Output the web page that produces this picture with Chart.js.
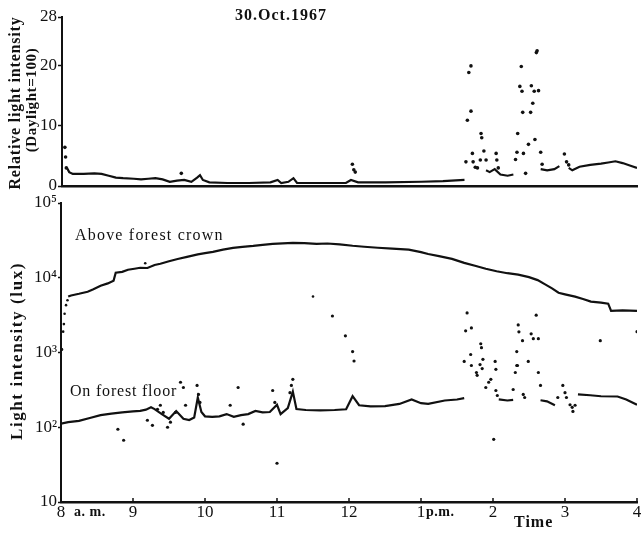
<!DOCTYPE html>
<html>
<head>
<meta charset="utf-8">
<title>Light intensity in the forest, 30 Oct 1967</title>
<script src="https://cdn.jsdelivr.net/npm/chart.js@4/dist/chart.umd.min.js"></script>
<style>
  body { margin: 0; background: #fff; }
  #wrap { position: relative; width: 641px; height: 533px; overflow: hidden; }
  .panel { position: absolute; left: 0; width: 641px; }
  #top { top: 0; height: 195px; }
  #bottom { top: 195px; height: 338px; }
</style>
</head>
<body>
<div id="wrap">
  <div class="panel" id="top"><canvas id="relChart"></canvas></div>
  <div class="panel" id="bottom"><canvas id="luxChart"></canvas></div>
</div>
<script>
// Time axis, decimal hours (8 a.m. to 4 p.m.)
const hourTicks = [8, 9, 10, 11, 12, 13, 14, 15, 16];
const hourLabels = ['8', '9', '10', '11', '12', '1', '2', '3', '4'];

// Relative light intensity axis (daylight = 100)
const relTicks = [0, 10, 20, 28];

// Lux axis, one tick per decade
const luxTicks = [10, 100, 1000, 10000, 100000];
const luxLabels = ['10', '10²', '10³', '10⁴', '10⁵'];

// Above forest crown, continuous record (lux)
const crownTimes = [8.10, 8.14, 8.25, 8.37, 8.45, 8.55, 8.65, 8.73, 8.76, 8.85, 8.93, 9.02, 9.10, 9.20, 9.30,
  9.38, 9.50, 9.62, 9.75, 9.90, 10.00, 10.11, 10.25, 10.39, 10.52, 10.67, 10.80, 10.94, 11.08, 11.22,
  11.38, 11.55, 11.70, 11.87, 12.05, 12.21, 12.40, 12.60, 12.83, 13.00, 13.10, 13.25, 13.43, 13.60,
  13.75, 13.90, 14.05, 14.20, 14.35, 14.50, 14.62, 14.73, 14.82, 14.91, 15.00, 15.14, 15.25, 15.36,
  15.50, 15.60, 15.64, 15.80, 16.00];
const crownLux = [5600, 5800, 6100, 6500, 7000, 7800, 8400, 9100, 11700, 12000, 12800, 13200, 13600, 13500, 14800,
  15400, 16600, 17800, 19000, 20500, 21300, 22200, 23800, 25100, 25900, 26700, 27600, 28400, 28900, 29300,
  29000, 28400, 28700, 28000, 26800, 26000, 25200, 24600, 23800, 22000, 20800, 19500, 17900, 15800,
  14500, 13200, 12200, 11500, 11000, 10200, 9300, 8100, 7200, 6300, 6000, 5600, 5200, 4800,
  4650, 4500, 3600, 3650, 3600];
const crownDotTimes = [8.03, 8.04, 8.05, 8.07, 8.09, 9.17, 11.50];
const crownDotLux = [1900, 2400, 3300, 4300, 5000, 15600, 5600];

// On forest floor, continuous record (lux); null where only scattered readings exist
const floorTimes = [8.00, 8.10, 8.25, 8.40, 8.55, 8.70, 8.85, 9.00, 9.10, 9.18, 9.25, 9.30, 9.40, 9.50, 9.60,
  9.70, 9.78, 9.85, 9.90, 9.95, 10.00, 10.10, 10.20, 10.30, 10.40, 10.50, 10.60, 10.70, 10.80, 10.90,
  11.00, 11.05, 11.15, 11.22, 11.27, 11.40, 11.60, 11.80, 11.96, 12.05, 12.14, 12.30, 12.50, 12.70,
  12.87, 13.00, 13.10, 13.33, 13.50, 13.60, 13.62, 14.08, 14.20, 14.28, 14.30, 14.66, 14.75, 14.86,
  14.92, 15.00, 15.18, 15.35, 15.50, 15.73, 15.85, 16.00];
const floorLux = [112, 117, 122, 133, 145, 152, 158, 163, 166, 172, 185, 175, 150, 130, 165,
  130, 125, 135, 250, 160, 140, 138, 140, 150, 138, 145, 150, 165, 158, 160,
  200, 150, 180, 300, 175, 170, 168, 170, 174, 260, 197, 190, 192, 205,
  235, 210, 205, 228, 235, 245, null, 236, 228, 232, null, 230, 222, 197,
  null, null, 275, 268, 260, 258, 235, 200];
const floorDotTimes = [8.01, 8.79, 8.87, 9.20, 9.27, 9.34, 9.38, 9.42, 9.48, 9.52, 9.59, 9.66, 9.70, 9.73,
  9.89, 9.91, 9.93, 10.35, 10.46, 10.53, 10.94, 10.97, 11.00, 11.18, 11.20, 11.22,
  11.77, 11.95, 12.05, 12.07, 13.60, 13.62, 13.64, 13.69, 13.70, 13.70, 13.77, 13.78, 13.82, 13.83,
  13.84, 13.85, 13.86, 13.90, 13.94, 13.97, 14.01, 14.03, 14.04, 14.04, 14.06, 14.28, 14.31, 14.33,
  14.33, 14.34, 14.35, 14.36, 14.41, 14.42, 14.44, 14.49, 14.53, 14.56, 14.60, 14.63, 14.63, 14.66,
  14.90, 14.97, 15.00, 15.02, 15.07, 15.10, 15.11, 15.14, 15.49, 16.00];
const floorDotLux = [1100, 94, 67, 124, 106, 174, 197, 158, 100, 117, 158, 400, 340, 197,
  363, 275, 215, 197, 340, 110, 310, 215, 33, 290, 363, 437,
  3080, 1670, 1030, 770, 760, 1950, 3380, 940, 2130, 670, 540, 495, 690, 1310,
  1160, 610, 810, 340, 400, 437, 69, 760, 595, 310, 266, 320, 540, 670,
  1030, 670, 2340, 1890, 1440, 275, 250, 760, 1780, 1530, 3160, 1530, 540, 363,
  250, 363, 290, 250, 200, 185, 163, 197, 1440, 1900];

// Relative light intensity (floor / crown x 100), continuous record
const relTimes = [8.07, 8.10, 8.15, 8.30, 8.45, 8.55, 8.65, 8.75, 8.85, 9.00, 9.10, 9.20, 9.30, 9.40, 9.50,
  9.60, 9.70, 9.80, 9.88, 9.92, 9.96, 10.05, 10.30, 10.60, 10.90, 11.00, 11.05, 11.15, 11.22, 11.27,
  11.60, 11.95, 12.02, 12.12, 12.50, 13.00, 13.30, 13.60, 13.62, 13.90, 13.95, 14.02, 14.10, 14.20,
  14.28, 14.30, 14.66, 14.75, 14.85, 14.92, 14.95, 15.05, 15.10, 15.20, 15.35, 15.50, 15.60, 15.70,
  15.80, 15.90, 16.00];
const relValues = [3.0, 2.3, 2.0, 2.0, 2.1, 2.0, 1.7, 1.4, 1.3, 1.2, 1.1, 1.2, 1.3, 1.1, 0.7,
  0.9, 1.0, 0.7, 1.4, 1.8, 1.0, 0.6, 0.5, 0.5, 0.6, 1.0, 0.5, 0.7, 1.3, 0.5,
  0.5, 0.5, 1.0, 0.6, 0.6, 0.7, 0.8, 1.0, null, 2.6, 2.3, 2.8, 1.9, 1.7,
  1.9, null, 2.8, 2.6, 2.8, 3.3, null, 3.0, 2.6, 3.2, 3.5, 3.7, 3.9, 4.1,
  3.8, 3.4, 3.0];
const relDotTimes = [8.04, 8.05, 8.06, 9.66, 12.04, 12.06, 12.08,
  13.62, 13.64, 13.66, 13.69, 13.69, 13.71, 13.72, 13.75, 13.78, 13.82, 13.83, 13.84, 13.87, 13.90,
  14.04, 14.05, 14.07, 14.31, 14.33, 14.34, 14.37, 14.39, 14.40, 14.41, 14.42, 14.45, 14.49, 14.52,
  14.53, 14.55, 14.57, 14.58, 14.60, 14.61, 14.63, 14.66, 14.68, 14.99, 15.02, 15.05];
const relDotValues = [6.4, 4.8, 3.0, 2.1, 3.6, 2.7, 2.3,
  4.0, 10.9, 18.8, 19.9, 12.4, 5.4, 4.0, 3.1, 3.0, 4.3, 8.7, 8.0, 5.8, 4.3,
  5.4, 4.3, 3.0, 4.4, 5.6, 8.7, 16.5, 19.8, 15.7, 12.2, 5.4, 2.1, 6.9, 12.2,
  16.6, 13.7, 15.7, 7.7, 22.1, 22.4, 15.8, 5.6, 3.6, 5.3, 4.0, 3.5];

const SERIF = '"Liberation Serif", "DejaVu Serif", serif';
const INK = '#111';

const pts = (xs, ys) => xs.map((x, i) => ({ x: x, y: ys[i] }));

const trace = (xs, ys) => ({
  data: pts(xs, ys),
  showLine: true,
  spanGaps: false,
  borderColor: INK,
  borderWidth: 2.2,
  pointRadius: 0
});

const dots = (xs, ys, r) => ({
  data: pts(xs, ys),
  showLine: false,
  backgroundColor: INK,
  borderWidth: 0,
  pointRadius: r
});

// Writes a string, optionally rotated, with letter spacing
function label(ctx, text, x, y, opts) {
  ctx.save();
  ctx.font = opts.font;
  ctx.fillStyle = INK;
  ctx.letterSpacing = (opts.spacing || 0) + 'px';
  ctx.textAlign = opts.align || 'left';
  ctx.textBaseline = 'middle';
  ctx.translate(x, y);
  if (opts.rotate) ctx.rotate(opts.rotate);
  ctx.fillText(text, 0, 0);
  ctx.restore();
}

// Drops the extra room Chart.js keeps for end labels
function noEdgePadding(scale) {
  scale.paddingLeft = 0;
  scale.paddingRight = 0;
  scale.paddingTop = 0;
  scale.paddingBottom = 0;
}

// Top panel: relative light intensity
const relText = {
  id: 'relText',
  afterDraw(chart) {
    const ctx = chart.ctx;
    label(ctx, '30.Oct.1967', 281, 16, { font: 'bold 16px ' + SERIF, spacing: 1, align: 'center' });
    label(ctx, 'Relative light intensity', 16, 103, { font: 'bold 16px ' + SERIF, spacing: 0.8, align: 'center', rotate: -Math.PI / 2 });
    label(ctx, '(Daylight=100)', 32, 100, { font: 'bold 15px ' + SERIF, spacing: 0.6, align: 'center', rotate: -Math.PI / 2 });
  }
};

const relChart = new Chart(document.getElementById('relChart').getContext('2d'), {
  type: 'scatter',
  data: {
    datasets: [
      trace(relTimes, relValues),
      dots(relDotTimes, relDotValues, 1.8)
    ]
  },
  options: {
    responsive: true,
    maintainAspectRatio: false,
    animation: false,
    layout: { padding: { top: 17, right: 1, bottom: 9, left: 0 } },
    plugins: { legend: { display: false }, tooltip: { enabled: false } },
    scales: {
      x: {
        type: 'linear', min: 8, max: 16,
        ticks: { display: false },
        grid: { display: false, drawTicks: false },
        border: { display: true, color: INK, width: 2.5 },
        afterFit: s => { s.height = 0; noEdgePadding(s); }
      },
      y: {
        min: 0, max: 28,
        afterBuildTicks: s => { s.ticks = relTicks.map(v => ({ value: v })); },
        afterFit: s => { s.width = 62; noEdgePadding(s); },
        ticks: { color: INK, padding: 1, font: { family: SERIF, size: 17 } },
        grid: { drawOnChartArea: false, tickLength: 4, color: INK, tickWidth: 1.5 },
        border: { color: INK, width: 2 }
      }
    }
  },
  plugins: [relText]
});

// Bottom panel: light intensity in lux
const luxText = {
  id: 'luxText',
  afterDraw(chart) {
    const ctx = chart.ctx;
    const axisY = chart.chartArea.bottom;
    label(ctx, 'Above forest crown', 75, 41, { font: '16px ' + SERIF, spacing: 1.2 });
    label(ctx, 'On forest floor', 70, 197, { font: '16px ' + SERIF, spacing: 0.8 });
    label(ctx, 'Light intensity (lux)', 18, 156, { font: 'bold 17px ' + SERIF, spacing: 1.6, align: 'center', rotate: -Math.PI / 2 });
    label(ctx, 'a. m.', 74, axisY + 10, { font: 'bold 14px ' + SERIF, spacing: 0.5 });
    label(ctx, 'p.m.', 426, axisY + 10, { font: 'bold 14px ' + SERIF, spacing: 0.5 });
    label(ctx, 'Time', 514, axisY + 21, { font: 'bold 16px ' + SERIF, spacing: 1 });
    // short upward ticks on the time axis
    const x = chart.scales.x;
    ctx.save();
    ctx.strokeStyle = INK;
    ctx.lineWidth = 1.5;
    hourTicks.forEach(h => {
      const px = x.getPixelForValue(h);
      ctx.beginPath();
      ctx.moveTo(px, axisY);
      ctx.lineTo(px, axisY - 4);
      ctx.stroke();
    });
    ctx.restore();
  }
};

const luxChart = new Chart(document.getElementById('luxChart').getContext('2d'), {
  type: 'scatter',
  data: {
    datasets: [
      trace(crownTimes, crownLux),
      dots(crownDotTimes, crownDotLux, 1.3),
      trace(floorTimes, floorLux),
      dots(floorDotTimes, floorDotLux, 1.6)
    ]
  },
  options: {
    responsive: true,
    maintainAspectRatio: false,
    animation: false,
    layout: { padding: { top: 8, right: 0, bottom: 0, left: 0 } },
    plugins: { legend: { display: false }, tooltip: { enabled: false } },
    scales: {
      x: {
        type: 'linear', min: 8, max: 16,
        afterBuildTicks: s => { s.ticks = hourTicks.map(v => ({ value: v })); },
        afterFit: s => { s.height = 31; noEdgePadding(s); },
        ticks: {
          color: INK, padding: 0, maxRotation: 0, autoSkip: false,
          font: { family: SERIF, size: 17 },
          callback: v => hourLabels[hourTicks.indexOf(v)]
        },
        grid: { display: false, drawTicks: false },
        border: { display: true, color: INK, width: 2.5 }
      },
      y: {
        type: 'logarithmic', min: 10, max: 100000,
        afterBuildTicks: s => { s.ticks = luxTicks.map(v => ({ value: v })); },
        afterFit: s => { s.width = 61; noEdgePadding(s); },
        ticks: {
          color: INK, padding: 1,
          font: { family: SERIF, size: 17 },
          callback: v => luxLabels[luxTicks.indexOf(v)]
        },
        grid: { drawOnChartArea: false, tickLength: 3, color: INK, tickWidth: 1.5 },
        border: { color: INK, width: 2 }
      }
    }
  },
  plugins: [luxText]
});
</script>
</body>
</html>
